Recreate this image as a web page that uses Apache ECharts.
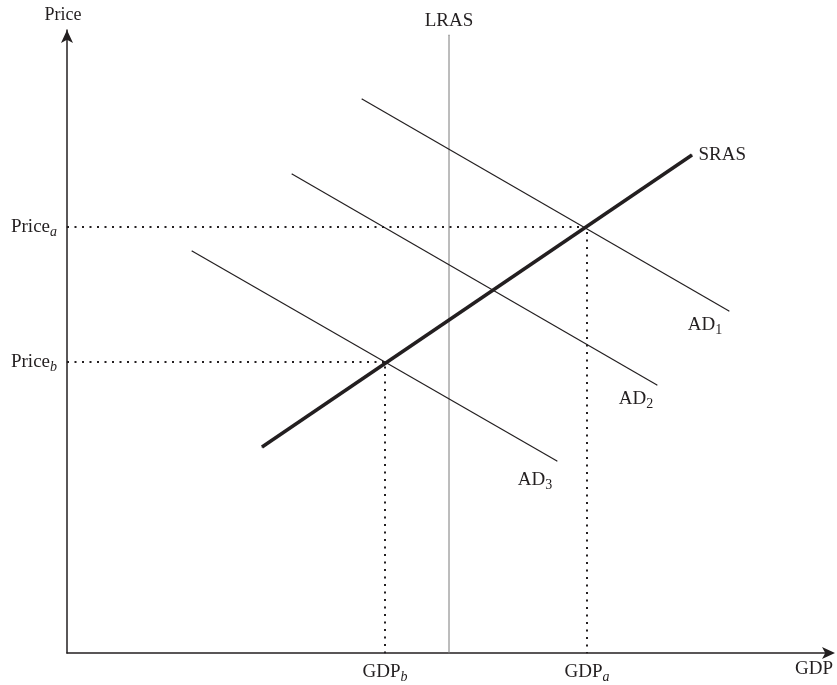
<!DOCTYPE html>
<html><head><meta charset="utf-8">
<script src="https://cdn.jsdelivr.net/npm/echarts@6/dist/echarts.min.js"></script>
<style>html,body{margin:0;padding:0;background:#fff}#c{width:837px;height:685px}</style>
</head><body><div id="c"></div>
<script>
// Data (abstract units: GDP on x, Price on y)
const sras = [[195, 206], [625, 498]];
const ad1 = [[295, 554], [662, 342]];
const ad2 = [[225, 479], [590, 268]];
const ad3 = [[125, 402], [490, 192]];
const lras = [[382, 0], [382, 618]];
const priceA = 426, priceB = 291;
const gdpA = 520, gdpB = 318;
const xTickValues = [gdpB, gdpA, 747];
const xTickLabels = ['{b|GDP}{s|b}', '{b|GDP}{s|a}', '{b|GDP}'];
const yTickValues = [priceB, priceA];
const yTickLabels = ['{b|Price}{s|b}', '{b|Price}{s|a}'];

const ink = '#231f20';
const font = 'Liberation Serif';
const rich = {
  b: {fontFamily: font, fontSize: 19, color: ink},
  s: {fontFamily: font, fontSize: 14, fontStyle: 'italic', color: ink, padding: [10, 0, 0, 0]}
};
const richUp = {
  b: {fontFamily: font, fontSize: 19, color: ink},
  s: {fontFamily: font, fontSize: 14, color: ink, padding: [10, 0, 0, 0]}
};
function withEndLabel(arr, text, pos, offset, dist) {
  return arr.map((p, i) => i === arr.length - 1 ? {
    value: p,
    label: {show: true, position: pos, offset: offset, distance: dist, formatter: text, rich: richUp}
  } : {value: p});
}
const lineSeries = (name, data, color, width, type) => ({
  type: 'line', name, data, symbol: 'circle', symbolSize: 1, showSymbol: true,
  silent: true, animation: false, itemStyle: {color},
  lineStyle: {color, width, type: type || 'solid'}, z: 3
});

const chart = echarts.init(document.getElementById('c'));
chart.setOption({
  animation: false,
  grid: {left: 67, right: 5, top: 30, bottom: 32},
  xAxis: {
    type: 'value', min: 0, max: 765,
    splitLine: {show: false},
    axisLine: {lineStyle: {color: ink, width: 1.5}, symbol: ['none', 'arrow'], symbolSize: [9, 13], symbolOffset: [0, 3]},
    axisTick: {show: false},
    axisLabel: {
      customValues: xTickValues, margin: 7, showMinLabel: true, showMaxLabel: true,
      formatter: v => xTickLabels[xTickValues.indexOf(v)], rich: rich
    }
  },
  yAxis: {
    type: 'value', min: 0, max: 623,
    name: 'Price', nameLocation: 'end', nameGap: 6,
    nameTextStyle: {fontFamily: font, fontSize: 18, color: ink, align: 'center', padding: [0, 8, 0, 0]},
    splitLine: {show: false},
    axisLine: {lineStyle: {color: ink, width: 1.5}, symbol: ['none', 'arrow'], symbolSize: [9, 13], symbolOffset: [0, 0]},
    axisTick: {show: false},
    axisLabel: {
      customValues: yTickValues, margin: 10,
      formatter: v => yTickLabels[yTickValues.indexOf(v)], rich: rich
    }
  },
  series: [
    lineSeries('LRAS', withEndLabel(lras, '{b|LRAS}', 'top', [0, 0], 4), '#7a7a7a', 1),
    lineSeries('AD1', withEndLabel(ad1, '{b|AD}{s|1}', 'bottom', [-24, 0], 2), ink, 1.2),
    lineSeries('AD2', withEndLabel(ad2, '{b|AD}{s|2}', 'bottom', [-21, 0], 2), ink, 1.2),
    lineSeries('AD3', withEndLabel(ad3, '{b|AD}{s|3}', 'bottom', [-22, 5], 2), ink, 1.2),
    lineSeries('PriceA', [[0, priceA], [gdpA, priceA], [gdpA, 0]], ink, 2, [2, 5.5]),
    lineSeries('PriceB', [[0, priceB], [gdpB, priceB], [gdpB, 0]], ink, 2, [2, 5.5]),
    Object.assign(lineSeries('SRAS', withEndLabel(sras, '{b|SRAS}', 'right', [0, 0], 6), ink, 3.5), {z: 4})
  ]
});
</script></body></html>
